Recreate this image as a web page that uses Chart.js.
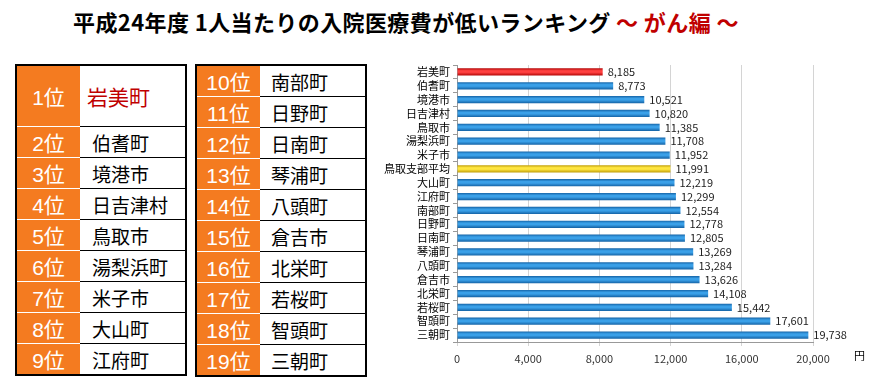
<!DOCTYPE html>
<html lang="ja">
<head>
<meta charset="utf-8">
<script src="https://cdn.jsdelivr.net/npm/chart.js@4"></script>
<style>
  body { margin: 0; width: 876px; height: 385px; background: #fff; position: relative; overflow: hidden;
         font-family: "Noto Sans CJK JP", sans-serif; }
  #title { position: absolute; left: 73px; top: 5px; font-size: 22px; font-weight: bold; color: #000;
           white-space: nowrap; letter-spacing: 0.4px; }
  #title span { color: #c00000; }
  table.rank { position: absolute; top: 64px; border-collapse: collapse; border: 2px solid #000;
               table-layout: fixed; width: 172px; }
  table.rank td { height: 29.8px; padding: 0; border-bottom: 1px solid #000; box-sizing: border-box; }
  td.pos { background: #f47b20; color: #fff; font-size: 21px; text-align: center; width: 64px;
           border-bottom: 1px solid #fff !important; font-family: "Liberation Sans", "Noto Sans CJK JP", sans-serif; }
  td.nm { background: #fff; color: #000; font-size: 19px; white-space: nowrap; }
  td.first { color: #c00000; font-size: 21px; }
  #chartBox { position: absolute; left: 380px; top: 55px; width: 496px; height: 320px; }
  #yen { position: absolute; left: 854px; top: 347px; font-size: 11px; color: #000; }
</style>
</head>
<body>
<div id="title">平成24年度 1人当たりの入院医療費が低いランキング <span>～ がん編 ～</span></div>
<table class="rank" id="tblLeft" style="left:15px"></table>
<table class="rank" id="tblRight" style="left:195px"></table>
<div id="chartBox"><canvas id="barChart"></canvas></div>
<div id="yen">円</div>
<script>
// データ
const categorias = ["岩美町", "伯耆町", "境港市", "日吉津村", "鳥取市", "湯梨浜町", "米子市", "鳥取支部平均",
  "大山町", "江府町", "南部町", "日野町", "日南町", "琴浦町", "八頭町", "倉吉市", "北栄町", "若桜町", "智頭町", "三朝町"];
const valores = [8185, 8773, 10521, 10820, 11385, 11708, 11952, 11991, 12219, 12299,
  12554, 12778, 12805, 13269, 13284, 13626, 14108, 15442, 17601, 19738];
const ticksX = [0, 4000, 8000, 12000, 16000, 20000];

// ランキング表
const ranking = ["岩美町", "伯耆町", "境港市", "日吉津村", "鳥取市", "湯梨浜町", "米子市", "大山町", "江府町",
  "南部町", "日野町", "日南町", "琴浦町", "八頭町", "倉吉市", "北栄町", "若桜町", "智頭町", "三朝町"];

const tblLeft = document.getElementById("tblLeft");
const tblRight = document.getElementById("tblRight");
tblLeft.innerHTML = ranking.slice(0, 9).map((nombre, i) => {
  if (i === 0) {
    return `<tr><td class="pos" style="height:61.6px">1位</td><td class="nm first" style="height:61.6px;padding-left:7px">${nombre}</td></tr>`;
  }
  return `<tr><td class="pos">${i + 1}位</td><td class="nm" style="padding-left:12px">${nombre}</td></tr>`;
}).join("");
tblRight.innerHTML = ranking.slice(9).map((nombre, i) =>
  `<tr><td class="pos">${i + 10}位</td><td class="nm" style="padding-left:11px">${nombre}</td></tr>`
).join("");

// バーの色（グラデーション）
function colorBarra(ctx) {
  const chart = ctx.chart;
  const i = ctx.dataIndex;
  let base = ["#0f5a9c", "#3aa0e8", "#0f5a9c"];
  if (categorias[i] === "岩美町") base = ["#a80000", "#ff4040", "#a80000"];
  if (categorias[i] === "鳥取支部平均") base = ["#b89400", "#ffe640", "#b89400"];
  const y = chart.scales.y;
  if (!y || y.top === undefined) return base[1];
  const c = y.getPixelForValue(i);
  const g = chart.ctx.createLinearGradient(0, c - 4, 0, c + 4);
  g.addColorStop(0, base[0]);
  g.addColorStop(0.35, base[1]);
  g.addColorStop(0.55, base[1]);
  g.addColorStop(1, base[0]);
  return g;
}

// 値ラベル
const etiquetas = {
  id: "etiquetas",
  afterDatasetsDraw(chart) {
    const ctx = chart.ctx;
    ctx.save();
    ctx.font = "11px 'Noto Sans CJK JP', sans-serif";
    ctx.fillStyle = "#222";
    ctx.textBaseline = "middle";
    chart.getDatasetMeta(0).data.forEach((bar, i) => {
      ctx.fillText(valores[i].toLocaleString("en-US"), bar.x + 5, bar.y);
    });
    ctx.restore();
  },
};

new Chart(document.getElementById("barChart"), {
  type: "bar",
  data: {
    labels: categorias,
    datasets: [{
      data: valores,
      backgroundColor: colorBarra,
      borderWidth: 0,
      barPercentage: 0.52,
      categoryPercentage: 1,
    }],
  },
  options: {
    indexAxis: "y",
    responsive: true,
    maintainAspectRatio: false,
    animation: false,
    layout: { padding: { top: 10, right: 63, bottom: 0, left: 0 } },
    plugins: { legend: { display: false }, tooltip: { enabled: false } },
    scales: {
      x: {
        min: 0,
        max: 20000,
        afterBuildTicks: (s) => { s.ticks = ticksX.map((v) => ({ value: v })); },
        afterFit: (s) => { s.height = 33; },
        grid: { color: "#d4d4d4", drawTicks: true, tickLength: 4 },
        border: { color: "#999" },
        ticks: { color: "#333", padding: 6, font: { size: 11, family: "'Noto Sans CJK JP', sans-serif" },
          callback: (v) => v.toLocaleString("en-US") },
      },
      y: {
        afterFit: (s) => { s.width = 77; },
        grid: { drawOnChartArea: false, tickLength: 4, color: "#999" },
        border: { color: "#999" },
        ticks: { color: "#000", padding: 3, autoSkip: false, font: { size: 11, family: "'Noto Sans CJK JP', sans-serif" } },
      },
    },
  },
  plugins: [etiquetas],
});
</script>
</body>
</html>
